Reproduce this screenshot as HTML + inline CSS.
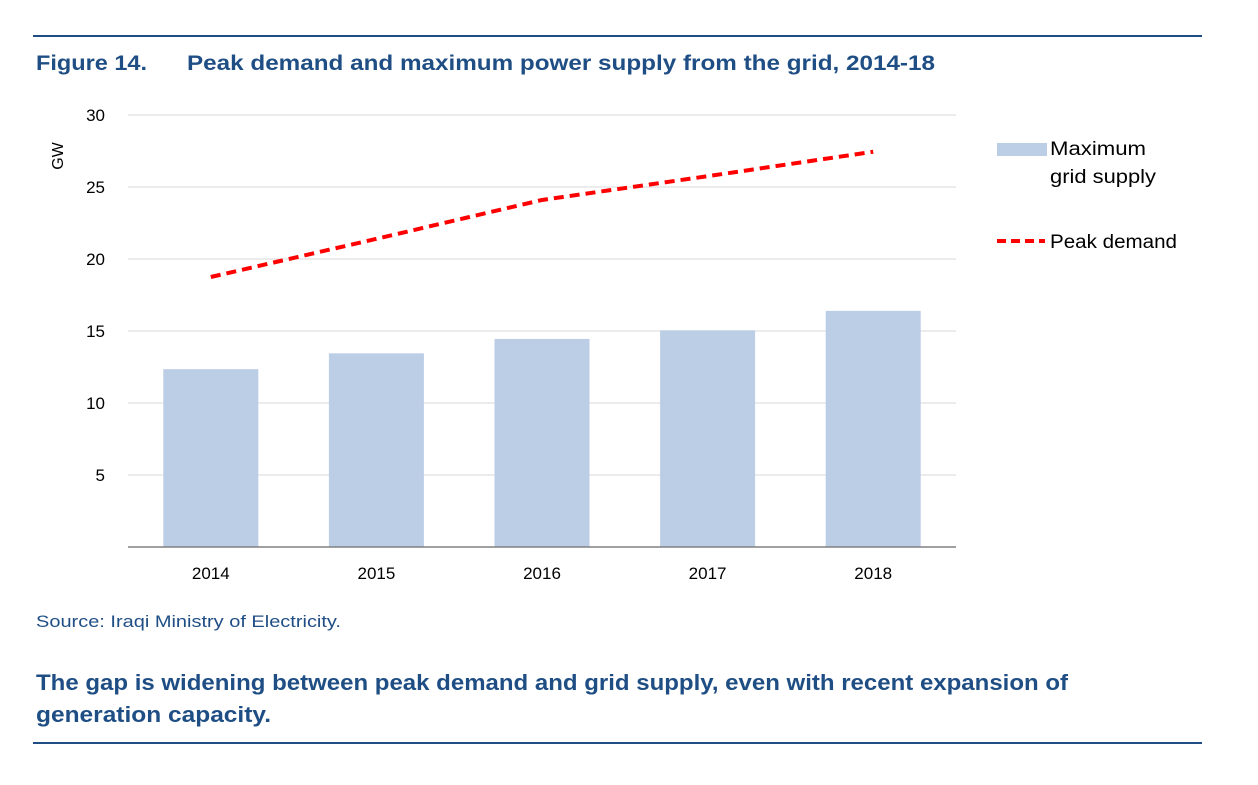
<!DOCTYPE html>
<html><head><meta charset="utf-8"><style>
body{margin:0;width:1258px;height:780px;background:#fff;font-family:"Liberation Sans",sans-serif;overflow:hidden}
</style></head><body>
<svg width="1258" height="780" xmlns="http://www.w3.org/2000/svg">
<rect x="33" y="35" width="1169" height="2" fill="#1f4e85"/>
<rect x="33" y="742" width="1169" height="2" fill="#1f4e85"/>
<text x="36" y="70" font-size="21" font-weight="bold" fill="#1f4e85" textLength="111" lengthAdjust="spacingAndGlyphs">Figure 14.</text>
<text x="187" y="70" font-size="21" font-weight="bold" fill="#1f4e85" textLength="748" lengthAdjust="spacingAndGlyphs">Peak demand and maximum power supply from the grid, 2014-18</text>
<g id="grid"></g>
<g id="bars"></g>
<g id="line"></g>
<g id="axes"></g>
<text transform="translate(63,156) rotate(-90)" font-size="16" fill="#000" text-anchor="middle">GW</text>
<rect x="997" y="143" width="50" height="13" fill="#bccde6"/>
<text x="1050" y="155" font-size="19" fill="#000" textLength="96" lengthAdjust="spacingAndGlyphs">Maximum</text>
<text x="1050" y="183" font-size="19" fill="#000" textLength="106" lengthAdjust="spacingAndGlyphs">grid supply</text>
<line x1="997" y1="241" x2="1045" y2="241" stroke="#f00" stroke-width="4" stroke-dasharray="9,5"/>
<text x="1050" y="248" font-size="19" fill="#000" textLength="127" lengthAdjust="spacingAndGlyphs">Peak demand</text>
<text x="36" y="627" font-size="17" fill="#1f4e85" textLength="305" lengthAdjust="spacingAndGlyphs">Source: Iraqi Ministry of Electricity.</text>
<text x="36" y="690" font-size="22" font-weight="bold" fill="#1f4e85" textLength="1032" lengthAdjust="spacingAndGlyphs">The gap is widening between peak demand and grid supply, even with recent expansion of</text>
<text x="36" y="722" font-size="22" font-weight="bold" fill="#1f4e85" textLength="235" lengthAdjust="spacingAndGlyphs">generation capacity.</text>
</svg>
<script>
const categories=["2014","2015","2016","2017","2018"];
const supply=[12.35,13.45,14.45,15.05,16.4];
const demand=[18.75,21.4,24.1,25.75,27.45];
const yTicks=[5,10,15,20,25,30];
const NS="http://www.w3.org/2000/svg";
const x0=128,x1=956,yBase=547,pxPer=14.4;
const band=(x1-x0)/categories.length;
const xc=i=>x0+band*(i+0.5);
const y=v=>yBase-v*pxPer;
function mk(t,a,p){const e=document.createElementNS(NS,t);for(const k in a)e.setAttribute(k,a[k]);p.appendChild(e);return e;}
const grid=document.getElementById('grid'),bars=document.getElementById('bars'),line=document.getElementById('line'),axes=document.getElementById('axes');
yTicks.forEach(v=>{
  const g=mk('line',{x1:x0,x2:x1,y1:y(v),y2:y(v),stroke:'#d9d9d9','stroke-width':1},grid);
  
  
  const t=mk('text',{x:105,y:y(v)+6,'font-size':17,'text-anchor':'end',fill:'#000'},axes);
  t.textContent=v;
  
  
});
const ax=mk('line',{x1:x0,x2:x1,y1:yBase,y2:yBase,stroke:'#808080','stroke-width':1.5},axes);


const bw=95;
categories.forEach((c,i)=>{
  const r=mk('rect',{x:xc(i)-bw/2,y:y(supply[i]),width:bw,height:yBase-y(supply[i]),fill:'#bccde6'},bars);
  
  
  const t=mk('text',{x:xc(i),y:579,'font-size':17,'text-anchor':'middle',fill:'#000'},axes);
  t.textContent=c;
  
  
});
const pl=mk('polyline',{points:demand.map((v,i)=>xc(i)+','+y(v)).join(' '),fill:'none',stroke:'#f00','stroke-width':4,'stroke-dasharray':'10,6'},line);


</script>
</body></html>
